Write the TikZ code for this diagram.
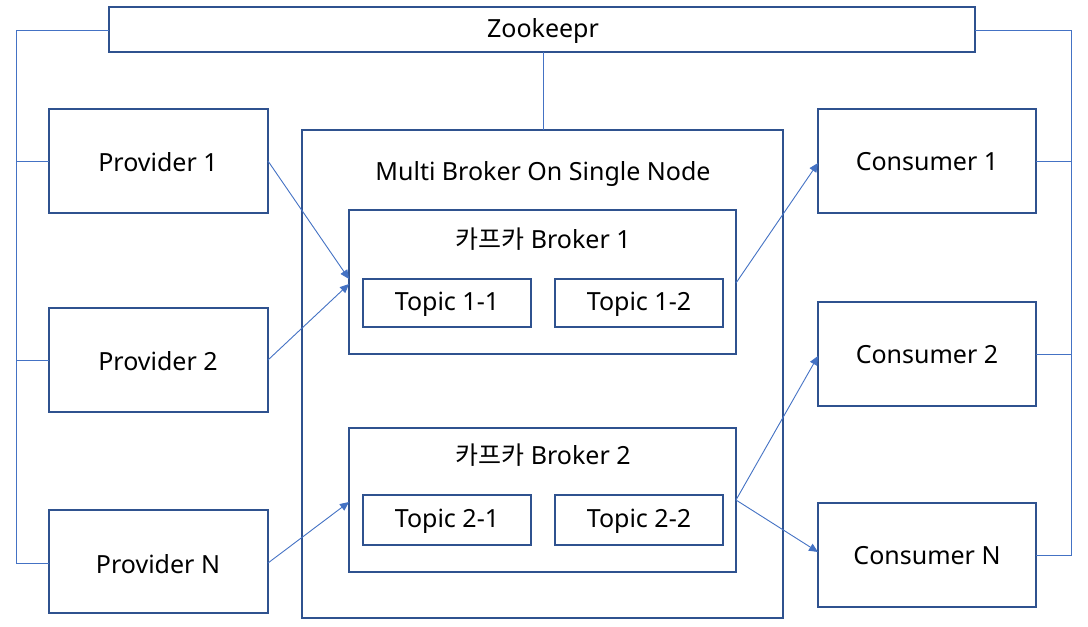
\documentclass[tikz,border=0pt]{standalone}
\usepackage{fontspec}
\setmainfont{Noto Sans}
\newfontfamily\kr{Noto Sans CJK KR}
\usetikzlibrary{arrows.meta}
\definecolor{boxblue}{HTML}{2F528F}
\definecolor{linkblue}{HTML}{4472C4}
\tikzset{
  box/.style={draw=boxblue, line width=2pt, fill=white},
  lbl/.style={font=\fontsize{25}{28}\selectfont, inner sep=0pt},
  link/.style={draw=linkblue, line width=0.9pt},
  arr/.style={link, -{Triangle[length=9pt,width=8pt]}},
}
\begin{document}
\begin{tikzpicture}[x=1pt,y=-1pt]
\useasboundingbox (0,0) rectangle (1088,627);
% buses
\coordinate (l0) at (16,30);
\coordinate (l1) at (16,161);
\coordinate (l2) at (16,360);
\coordinate (l3) at (16,563);
\coordinate (r0) at (1071,30);
\coordinate (r1) at (1071,161);
\coordinate (r2) at (1071,354);
\coordinate (r3) at (1071,555);
% boxes
\draw[box] (109,7) rectangle (975,52); \node[lbl] (zk) at (543,31) {Zookeepr};
\coordinate (zkl) at (109,30); \coordinate (zkr) at (975,30);
\coordinate (zkb) at (543,52);
\draw[box] (49,109) rectangle (268,213); \node[lbl] (p1) at (158,162) {Provider 1};
\draw[box] (49,308) rectangle (268,412); \node[lbl] (p2) at (158,361) {Provider 2};
\draw[box] (49,510) rectangle (268,613); \node[lbl] (pn) at (158,564) {Provider N};
\draw[box] (302,130) rectangle (783,618); \node[lbl] (mb) at (543,174) {Multi Broker On Single Node};
\coordinate (mbt) at (543,130);
\draw[box] (349,210) rectangle (736,354); \node[lbl] (b1) at (543,239) {{\kr 카프카} Broker 1};
\draw[box] (363,279) rectangle (531,327); \node[lbl] (t11) at (447,304) {Topic 1-1};
\draw[box] (555,279) rectangle (723,327); \node[lbl] (t12) at (639,304) {Topic 1-2};
\draw[box] (349,428) rectangle (736,572); \node[lbl] (b2) at (543,455) {{\kr 카프카} Broker 2};
\draw[box] (363,495) rectangle (531,545); \node[lbl] (t21) at (447,521) {Topic 2-1};
\draw[box] (555,495) rectangle (723,545); \node[lbl] (t22) at (639,521) {Topic 2-2};
\draw[box] (818,109) rectangle (1036,213); \node[lbl] (c1) at (927,162) {Consumer 1};
\draw[box] (818,302) rectangle (1036,406); \node[lbl] (c2) at (927,355) {Consumer 2};
\draw[box] (818,503) rectangle (1036,607); \node[lbl] (cn) at (927,556) {Consumer N};
% bus lines
\draw[link] (zkl) -- (l0) -- (l3) -- (49,563);
\draw[link] (l1) -- (49,161);
\draw[link] (l2) -- (49,360);
\draw[link] (zkr) -- (r0) -- (r3) -- (1036,555);
\draw[link] (r1) -- (1036,161);
\draw[link] (r2) -- (1036,354);
\draw[link] (zkb) -- (mbt);
% arrows
\draw[arr] (268,161) -- (349,279);
\draw[arr] (268,360) -- (349,284);
\draw[arr] (268,563) -- (349,502);
\draw[arr] (736,283) -- (818,163);
\draw[arr] (736,500) -- (818,356);
\draw[arr] (736,500) -- (818,552);
\end{tikzpicture}
\end{document}
